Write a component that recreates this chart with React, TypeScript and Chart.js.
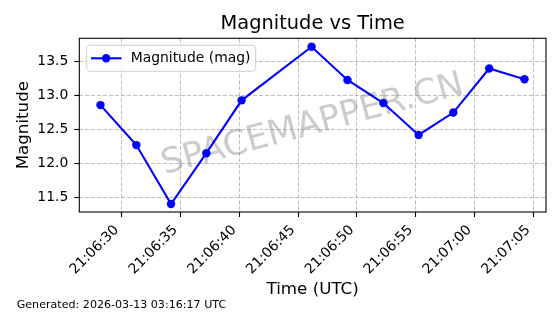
import { useEffect, useRef } from "react";
import { Chart, registerables } from "chart.js";

Chart.register(...registerables);

// seconds after 21:06:00 UTC
const timeSeconds = [28.2, 31.25, 34.2, 37.2, 40.2, 46.15, 49.2, 52.25, 55.25, 58.2, 61.25, 64.25];
const magnitudes = [12.86, 12.27, 11.4, 12.15, 12.93, 13.72, 13.23, 12.89, 12.42, 12.75, 13.4, 13.24];
const xTickSeconds = [30, 35, 40, 45, 50, 55, 60, 65];
const xTickLabels = ["21:06:30", "21:06:35", "21:06:40", "21:06:45", "21:06:50", "21:06:55", "21:07:00", "21:07:05"];
const yTicks = [11.5, 12.0, 12.5, 13.0, 13.5];
const seriesLabel = "Magnitude (mag)";
const chartTitle = "Magnitude vs Time";
const xTitle = "Time (UTC)";
const yTitle = "Magnitude";
const footnote = "Generated: 2026-03-13 03:16:17 UTC";
const watermark = "SPACEMAPPER.CN";

const FONT = "'DejaVu Sans', sans-serif";
const BLUE = "#0000ff";

const decorPlugin = {
  id: "decor",
  beforeDatasetsDraw(chart: any) {
    const { ctx, chartArea: a } = chart;
    ctx.save();
    ctx.translate((a.left + a.right) / 2, (a.top + a.bottom) / 2);
    ctx.rotate((-15 * Math.PI) / 180);
    ctx.font = `34.7px ${FONT}`;
    ctx.fillStyle = "rgba(128,128,128,0.4)";
    ctx.textAlign = "center";
    ctx.textBaseline = "middle";
    ctx.fillText(watermark, 0, 0);
    ctx.restore();
  },
  afterDatasetsDraw(chart: any) {
    const { ctx, chartArea: a } = chart;
    ctx.save();
    // axes box
    ctx.strokeStyle = "#000";
    ctx.lineWidth = 1.1;
    ctx.strokeRect(a.left, a.top, a.right - a.left, a.bottom - a.top);

    // legend
    const lx = 86.7, ly = 45.3, lw = 169, lh = 26, r = 3;
    ctx.beginPath();
    ctx.moveTo(lx + r, ly);
    ctx.arcTo(lx + lw, ly, lx + lw, ly + lh, r);
    ctx.arcTo(lx + lw, ly + lh, lx, ly + lh, r);
    ctx.arcTo(lx, ly + lh, lx, ly, r);
    ctx.arcTo(lx, ly, lx + lw, ly, r);
    ctx.closePath();
    ctx.fillStyle = "rgba(255,255,255,0.8)";
    ctx.fill();
    ctx.strokeStyle = "#d0d0d0";
    ctx.lineWidth = 1;
    ctx.stroke();
    const cy = ly + lh / 2;
    ctx.strokeStyle = BLUE;
    ctx.lineWidth = 2.1;
    ctx.beginPath();
    ctx.moveTo(91, cy);
    ctx.lineTo(121.5, cy);
    ctx.stroke();
    ctx.fillStyle = BLUE;
    ctx.beginPath();
    ctx.arc(106.2, cy, 4.2, 0, Math.PI * 2);
    ctx.fill();
    ctx.fillStyle = "#000";
    ctx.font = `13.9px ${FONT}`;
    ctx.textAlign = "left";
    ctx.textBaseline = "middle";
    ctx.fillText(chart.data.datasets[0].label, 130.7, cy + 0.5);
    ctx.restore();
  },
  afterDraw(chart: any) {
    const { ctx, chartArea: a } = chart;
    const cx = (a.left + a.right) / 2;
    ctx.save();
    ctx.fillStyle = "#000";
    ctx.textBaseline = "alphabetic";
    ctx.textAlign = "center";
    ctx.font = `19.4px ${FONT}`;
    ctx.fillText(chartTitle, cx, 29.3);
    ctx.font = `16.7px ${FONT}`;
    ctx.fillText(xTitle, cx, 294.3);
    ctx.save();
    ctx.translate(28.3, (a.top + a.bottom) / 2);
    ctx.rotate(-Math.PI / 2);
    ctx.fillText(yTitle, 0, 0);
    ctx.restore();
    ctx.textAlign = "left";
    ctx.font = `11.1px ${FONT}`;
    ctx.fillText(footnote, 16.7, 308.3);
    ctx.restore();
  },
};

export default function App() {
  const ref = useRef<HTMLCanvasElement | null>(null);

  useEffect(() => {
    if (!ref.current) return;
    const chart = new Chart(ref.current, {
      type: "line",
      data: {
        datasets: [
          {
            label: seriesLabel,
            data: timeSeconds.map((t, i) => ({ x: t, y: magnitudes[i] })),
            borderColor: BLUE,
            backgroundColor: BLUE,
            pointBackgroundColor: BLUE,
            pointBorderWidth: 0,
            pointRadius: 4.2,
            borderWidth: 2.1,
            tension: 0,
            fill: false,
          },
        ],
      },
      options: {
        animation: false,
        responsive: false,
        maintainAspectRatio: false,
        devicePixelRatio: 1,
        layout: { padding: { top: 38.3, right: 14, left: 0, bottom: 0 } },
        plugins: {
          legend: { display: false },
          title: { display: false },
          tooltip: { enabled: false },
        },
        font: { family: FONT },
        scales: {
          x: {
            type: "linear",
            min: 26.4,
            max: 66.08,
            afterBuildTicks: (s: any) => {
              s.ticks = xTickSeconds.map((v) => ({ value: v }));
            },
            afterFit: (s: any) => {
              s.height = 102;
            },
            ticks: {
              autoSkip: false,
              minRotation: 45,
              maxRotation: 45,
              padding: 5,
              labelOffset: -5,
              color: "#000",
              font: { family: FONT, size: 13.9 },
              callback: (v: any) => {
                const i = xTickSeconds.indexOf(Number(v));
                return i >= 0 ? xTickLabels[i] : "";
              },
            },
            grid: {
              color: "rgba(170,170,170,0.75)",
              lineWidth: 1,
              tickLength: 5,
              tickColor: "#000",
              tickWidth: 1.1,
              tickBorderDash: [],
            },
            border: { display: false, dash: [4, 2] },
          },
          y: {
            type: "linear",
            min: 11.283,
            max: 13.845,
            afterBuildTicks: (s: any) => {
              s.ticks = yTicks.map((v) => ({ value: v }));
            },
            afterFit: (s: any) => {
              s.width = 79.3;
            },
            ticks: {
              padding: 6,
              color: "#000",
              font: { family: FONT, size: 13.9 },
              callback: (v: any) => Number(v).toFixed(1),
            },
            grid: {
              color: "rgba(170,170,170,0.75)",
              lineWidth: 1,
              tickLength: 5,
              tickColor: "#000",
              tickWidth: 1.1,
              tickBorderDash: [],
            },
            border: { display: false, dash: [4, 2] },
          },
        },
      } as any,
      plugins: [decorPlugin],
    });
    return () => chart.destroy();
  }, []);

  return (
    <div style={{ position: "fixed", left: 0, top: 0, width: 560, height: 314, background: "#fff" }}>
      <canvas ref={ref} width={560} height={314} style={{ width: 560, height: 314, display: "block" }} />
    </div>
  );
}
